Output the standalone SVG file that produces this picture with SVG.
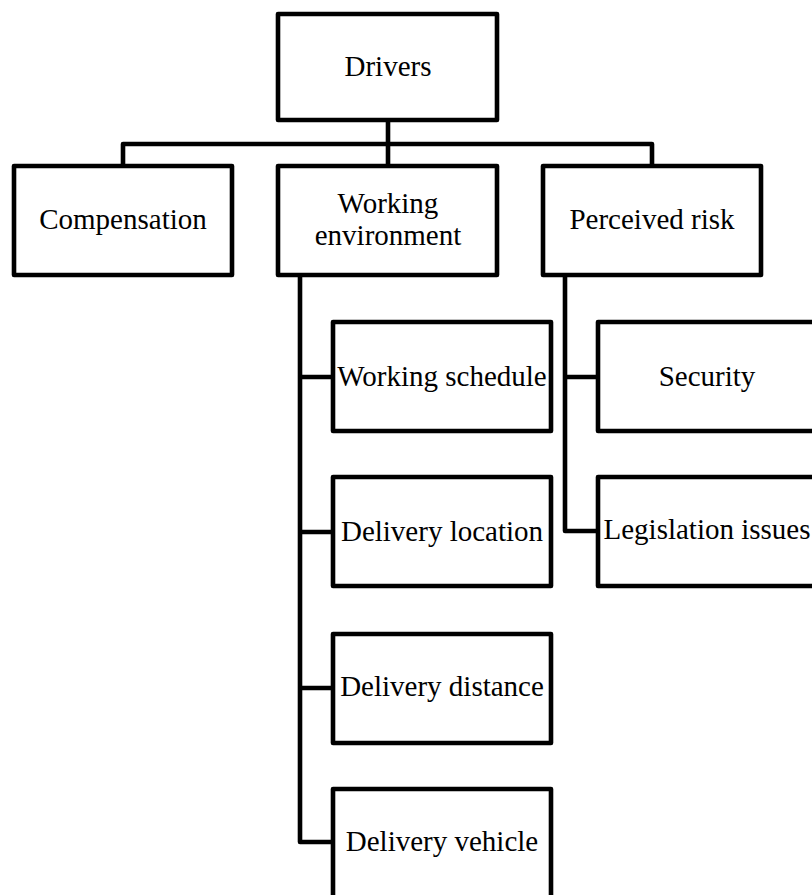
<svg xmlns="http://www.w3.org/2000/svg" width="812" height="895" viewBox="0 0 812 895">
<style>
.box{fill:#fff;stroke:#000;stroke-width:4.6;stroke-linejoin:round}
.conn{fill:none;stroke:#000;stroke-width:4.6;stroke-linejoin:round}
text{font-family:"Liberation Serif","Times New Roman",serif;font-size:29px;fill:#000;text-anchor:middle}
</style>
<rect width="812" height="895" fill="#fff"/>
<g id="connectors">
<path class="conn" d="M123,166 V144 H652 V166"/>
<path class="conn" d="M388,120 V166"/>
<path class="conn" d="M300,275 V842 H333 M300,377 H333 M300,532 H333 M300,688 H333"/>
<path class="conn" d="M565,275 V531 H598 M565,377 H598"/>
</g>
<g id="drivers"><rect class="box" x="278" y="14" width="219" height="106"/><text x="388" y="76">Drivers</text></g>
<g id="compensation"><rect class="box" x="14" y="166" width="218" height="109"/><text x="123" y="229">Compensation</text></g>
<g id="working-environment"><rect class="box" x="278" y="166" width="219" height="109"/><text x="388" y="213">Working</text><text x="388" y="245">environment</text></g>
<g id="perceived-risk"><rect class="box" x="543" y="166" width="218" height="109"/><text x="652" y="229">Perceived risk</text></g>
<g id="working-schedule"><rect class="box" x="333" y="322" width="218" height="109"/><text x="442" y="386">Working schedule</text></g>
<g id="delivery-location"><rect class="box" x="333" y="477" width="218" height="109"/><text x="442" y="541">Delivery location</text></g>
<g id="delivery-distance"><rect class="box" x="333" y="634" width="218" height="109"/><text x="442" y="696">Delivery distance</text></g>
<g id="delivery-vehicle"><rect class="box" x="333" y="789" width="218" height="109"/><text x="442" y="851">Delivery vehicle</text></g>
<g id="security"><rect class="box" x="598" y="322" width="218" height="109"/><text x="707" y="386">Security</text></g>
<g id="legislation-issues"><rect class="box" x="598" y="477" width="218" height="109"/><text x="707" y="539">Legislation issues</text></g>
</svg>
